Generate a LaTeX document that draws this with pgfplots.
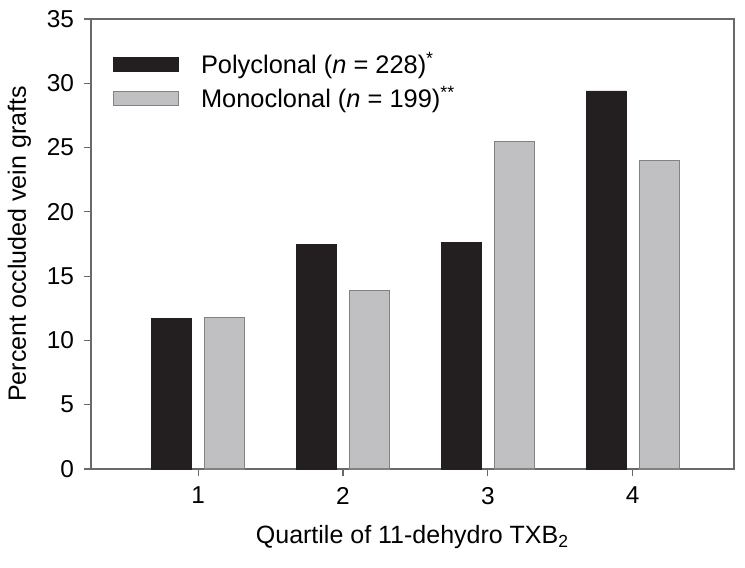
\documentclass[border=0pt]{standalone}
\usepackage{pgfplots}
\pgfplotsset{compat=1.18}
\usepackage{fontspec}
\setmainfont{Liberation Sans}
\definecolor{barblack}{RGB}{35,31,32}
\definecolor{bargrey}{RGB}{192,192,194}
\definecolor{bargreyedge}{RGB}{130,130,132}
\definecolor{axisgrey}{RGB}{105,105,105}
\begin{document}
\begin{tikzpicture}
\begin{axis}[
  name=ax,
  scale only axis,
  width=321.5pt, height=225pt,
  xmin=0.26, xmax=4.70, ymin=0, ymax=35,
  xtick={1,2,3,4}, ytick={0,5,10,15,20,25,30,35},
  tick align=outside, tick pos=left,
  major tick length=3.5pt,
  axis line style={axisgrey, line width=0.8pt},
  tick style={axisgrey, line width=0.6pt},
  ybar, bar width=20pt,
  /pgf/number format/assume math mode=true,
  ticklabel style={font=\fontsize{12.2}{13.5}\selectfont},
  yticklabel style={xshift=-1.5pt},
  xticklabel style={yshift=-2pt},
  label style={font=\fontsize{12.5}{14}\selectfont},
  xlabel={Quartile of 11-dehydro TXB\textsubscript{2}},
  ylabel={Percent occluded vein grafts},
  xlabel style={yshift=-3.5pt},
  ylabel style={yshift=1pt},
  legend image code/.code={\draw[#1] (0pt,-3.5pt) rectangle (32.5pt,3.5pt);},
  legend cell align=left,
  legend style={draw=none, fill=none, at={(axis description cs:0.024,0.944)}, anchor=north west,
    font=\fontsize{12.7}{14}\selectfont, row sep=1pt,
    nodes={inner sep=2pt}},
]
\addplot[fill=barblack, draw=barblack, bar shift=-13.25pt] coordinates {(1,11.7) (2,17.5) (3,17.6) (4,29.4)};
\addplot[fill=bargrey, draw=bargreyedge, line width=0.6pt, bar shift=13.25pt] coordinates {(1,11.8) (2,13.9) (3,25.5) (4,24.0)};
\legend{{\hspace{9pt}Polyclonal (\textit{n} = 228)\textsuperscript{*}}, {\hspace{9pt}Monoclonal (\textit{n} = 199)\textsuperscript{**}}}
\end{axis}
\pgfresetboundingbox
\path ([xshift=-45.5pt,yshift=-49pt]ax.south west) rectangle ([xshift=5.5pt,yshift=9.5pt]ax.north east);
\end{tikzpicture}
\end{document}
